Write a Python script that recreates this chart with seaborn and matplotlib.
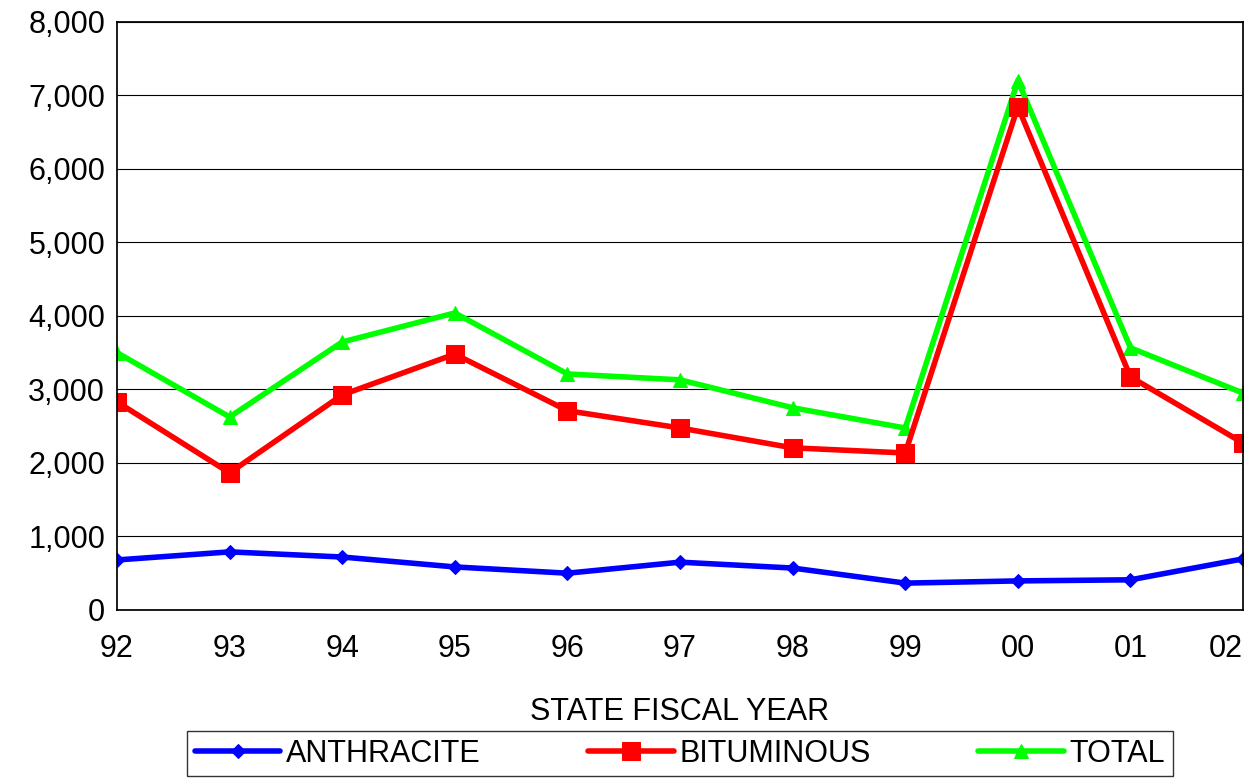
import pandas as pd
import seaborn as sns
import matplotlib.pyplot as plt
from matplotlib.ticker import FuncFormatter

sns.set_theme(style="white")
plt.rcParams['font.family'] = ['Liberation Sans', 'DejaVu Sans']

anos = ['92', '93', '94', '95', '96', '97', '98', '99', '00', '01', '02']
anthracite = [680, 790, 720, 585, 500, 650, 570, 365, 395, 410, 695]
bituminous = [2830, 1865, 2925, 3480, 2710, 2475, 2205, 2135, 6845, 3170, 2270]
total = [3500, 2625, 3645, 4040, 3210, 3130, 2750, 2475, 7200, 3565, 2950]

df = pd.DataFrame({'x': range(len(anos)), 'ANTHRACITE': anthracite,
                   'BITUMINOUS': bituminous, 'TOTAL': total})

fig = plt.figure(figsize=(12.54, 7.78), dpi=100)
ax = fig.add_axes([0.0933, 0.216, 0.898, 0.756])

estilos = [('TOTAL', '#00ff00', '^', 10), ('BITUMINOUS', '#ff0000', 's', 13),
           ('ANTHRACITE', '#0000ff', 'D', 7)]
for nome, cor, marc, tam in estilos:
    sns.lineplot(data=df, x='x', y=nome, ax=ax, color=cor, marker=marc,
                 markersize=tam, markeredgecolor=cor, linewidth=4, label=nome)

ax.set_xlim(0, len(anos) - 1)
ax.set_ylim(0, 8000)
ax.set_yticks(range(0, 8001, 1000))
ax.yaxis.set_major_formatter(FuncFormatter(lambda v, p: f'{int(v):,}'))
ax.set_xticks(range(len(anos)))
ax.set_xticklabels(anos)
ax.tick_params(labelsize=22, colors='black', length=5, direction='out')
ax.tick_params(axis='x', pad=12)
ax.get_xticklabels()[-1].set_horizontalalignment('right')
ax.grid(axis='y', color='black', linewidth=0.8)
for s in ax.spines.values():
    s.set_color('black')
ax.set_xlabel('STATE FISCAL YEAR', fontsize=22, labelpad=24, color='black')
ax.set_ylabel('')

h, l = ax.get_legend_handles_labels()
ordem = [2, 1, 0]
ax.legend([h[i] for i in ordem], [l[i] for i in ordem], ncol=3, fontsize=22,
          loc='upper center', bbox_to_anchor=(0.5, -0.18), frameon=True,
          fancybox=False, edgecolor='black', columnspacing=3.5,
          handlelength=2.8, handletextpad=0.2, borderpad=0.25,
          labelcolor='black')

fig.savefig('out.png', dpi=100)
